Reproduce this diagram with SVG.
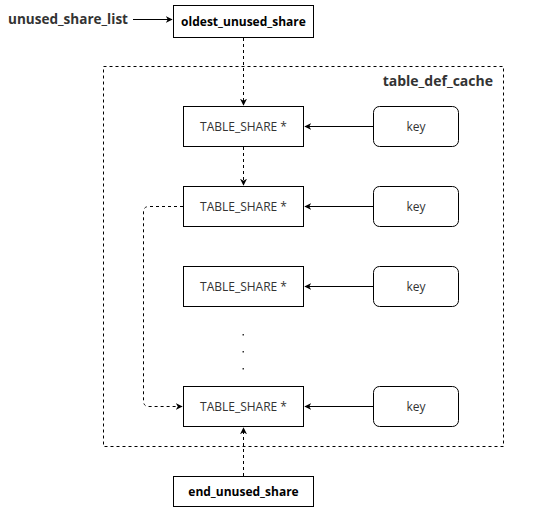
<svg xmlns="http://www.w3.org/2000/svg" width="534" height="518" viewBox="0 0 534 518">
<style>
.box{fill:#fff;stroke:#000;stroke-width:1}
.t{font-family:"Open Sans","Liberation Sans",sans-serif;font-size:12px;fill:#333;text-anchor:middle}
.b{font-family:"Open Sans","Liberation Sans",sans-serif;font-size:12px;font-weight:bold;fill:#000;text-anchor:middle}
.lbl{font-family:"Open Sans","Liberation Sans",sans-serif;font-size:14px;font-weight:bold;fill:#333}
.solid{fill:none;stroke:#000;stroke-width:1}
.dash{fill:none;stroke:#000;stroke-width:1;stroke-dasharray:3 3}
</style>
<defs>
<marker id="ah" viewBox="0 0 10 10" refX="9" refY="5" markerWidth="7" markerHeight="7" orient="auto" markerUnits="userSpaceOnUse">
<path d="M0,0 L10,5 L0,10 L3,5 Z" fill="#000"/>
</marker>
</defs>
<rect id="table_def_cache" x="103.5" y="66.5" width="400" height="380" fill="none" stroke="#000" stroke-dasharray="3 3"/>
<text class="lbl" x="493" y="86" text-anchor="end">table_def_cache</text>
<g id="unused_share_list"><text class="lbl" x="8" y="24" textLength="120" lengthAdjust="spacingAndGlyphs">unused_share_list</text></g>
<g id="oldest_unused_share"><rect class="box" x="173.5" y="5.5" width="140" height="32"/><text class="b" x="243.5" y="26">oldest_unused_share</text></g>
<g id="ts1"><rect class="box" x="183.5" y="106.5" width="120" height="40"/><text class="t" x="243.5" y="131">TABLE_SHARE *</text></g>
<g id="ts2"><rect class="box" x="183.5" y="186.5" width="120" height="40"/><text class="t" x="243.5" y="211">TABLE_SHARE *</text></g>
<g id="ts3"><rect class="box" x="183.5" y="266.5" width="120" height="40"/><text class="t" x="243.5" y="291">TABLE_SHARE *</text></g>
<g id="ts4"><rect class="box" x="183.5" y="386.5" width="120" height="40"/><text class="t" x="243.5" y="411">TABLE_SHARE *</text></g>
<g id="key1"><rect class="box" x="373.5" y="106.5" width="85" height="40" rx="6"/><text class="t" x="416" y="131">key</text></g>
<g id="key2"><rect class="box" x="373.5" y="186.5" width="85" height="40" rx="6"/><text class="t" x="416" y="211">key</text></g>
<g id="key3"><rect class="box" x="373.5" y="266.5" width="85" height="40" rx="6"/><text class="t" x="416" y="291">key</text></g>
<g id="key4"><rect class="box" x="373.5" y="386.5" width="85" height="40" rx="6"/><text class="t" x="416" y="411">key</text></g>
<g id="dots" fill="#333"><rect x="242.5" y="334" width="1.5" height="1.5"/><rect x="242.5" y="351" width="1.5" height="1.5"/><rect x="242.5" y="368" width="1.5" height="1.5"/></g>
<g id="end_unused_share"><rect class="box" x="173.5" y="476.5" width="140" height="30"/><text class="b" x="243.5" y="496">end_unused_share</text></g>
<g id="connectors">
<path class="solid" d="M133,19.5 H172" marker-end="url(#ah)"/>
<path class="dash" d="M243.5,38 V105" marker-end="url(#ah)"/>
<path class="dash" d="M243.5,147 V185" marker-end="url(#ah)"/>
<path class="solid" d="M373,126.5 H305" marker-end="url(#ah)"/>
<path class="solid" d="M373,206.5 H305" marker-end="url(#ah)"/>
<path class="solid" d="M373,286.5 H305" marker-end="url(#ah)"/>
<path class="solid" d="M373,406.5 H305" marker-end="url(#ah)"/>
<path class="dash" d="M183,206.5 H149 Q143.5,206.5 143.5,212 V401 Q143.5,406.5 149,406.5 H182" marker-end="url(#ah)"/>
<path class="dash" d="M243.5,476 V428" marker-end="url(#ah)"/>
</g>
</svg>
